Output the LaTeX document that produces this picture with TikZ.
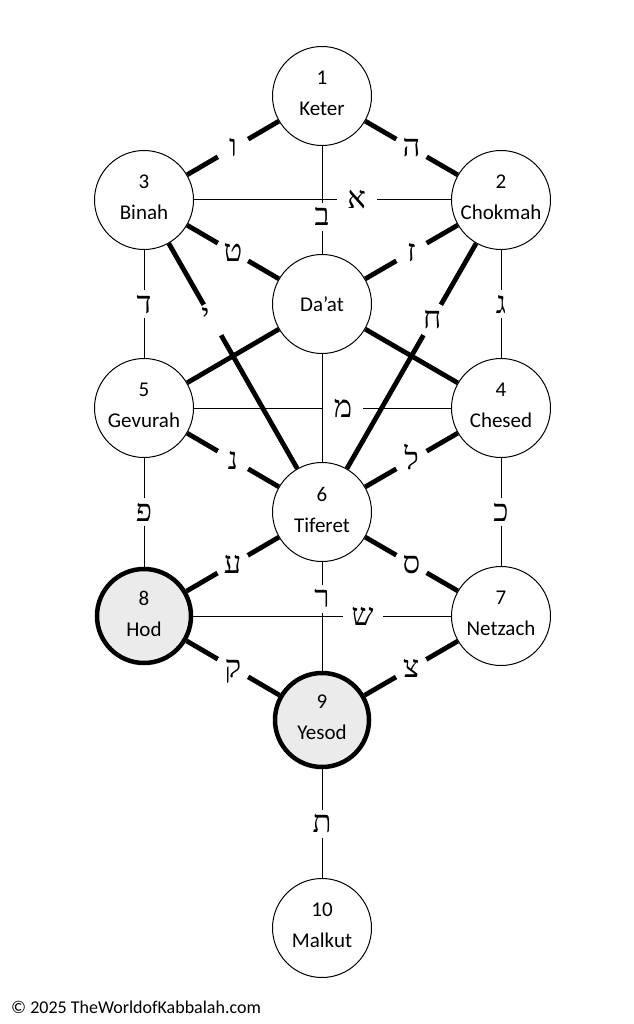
\documentclass[tikz,border=0pt]{standalone}
\usepackage{fontspec}
\setmainfont{Carlito}
\newfontfamily\heb[Script=Hebrew]{Liberation Serif}
\definecolor{lowfill}{RGB}{235,235,235}
\begin{document}
\begin{tikzpicture}[x=1pt,y=-1pt,
  sef/.style={circle,draw=black,line width=1pt,fill=white,minimum size=99pt,inner sep=0pt},
  sefbold/.style={circle,draw=black,line width=4.5pt,fill=lowfill,minimum size=94pt,inner sep=0pt},
  sefname/.style={align=center,inner sep=0pt,font=\fontsize{21}{31}\selectfont,yshift=2.5pt},
  thinpath/.style={line width=1pt},
  thickpath/.style={line width=4.8pt},
  hebfont/.style={font=\heb\fontsize{31}{31}\selectfont,text height=18pt,text depth=0pt},
  lblh/.style={hebfont,rectangle,fill=white,minimum width=40pt,minimum height=28pt,inner sep=0pt},
  lbld/.style={hebfont,circle,fill=white,minimum size=35pt,inner sep=0pt}
]
\useasboundingbox (0,0) rectangle (633,1024);
% sefirot
\node[sef] (keter) at (322,96) {};
\node[sef] (binah) at (144,200) {};
\node[sef] (chokmah) at (501,200) {};
\node[sef] (daat) at (322,304) {};
\node[sef] (gevurah) at (144,408) {};
\node[sef] (chesed) at (501,408) {};
\node[sef] (tiferet) at (322,512) {};
\node[sefbold] (hod) at (144,616) {};
\node[sef] (netzach) at (501,616) {};
\node[sefbold] (yesod) at (322,720) {};
\node[sef] (malkut) at (322,928) {};
% thin paths
\draw[thinpath] (keter) -- coordinate[pos=0.654] (pBet) (daat);
\draw[thinpath] (daat) -- (tiferet);
\draw[thinpath] (tiferet) -- coordinate[pos=0.34] (pResh) (yesod);
\draw[thinpath] (yesod) -- coordinate[pos=0.5] (pTav) (malkut);
\draw[thinpath] (binah) -- coordinate[pos=0.633] (pAlef) (chokmah);
\draw[thinpath] (gevurah) -- coordinate[pos=0.58] (pMem) (chesed);
\draw[thinpath] (hod) -- coordinate[pos=0.657] (pShin) (netzach);
\draw[thinpath] (binah) -- coordinate[pos=0.5] (pDalet) (gevurah);
\draw[thinpath] (chokmah) -- coordinate[pos=0.5] (pGimel) (chesed);
\draw[thinpath] (gevurah) -- coordinate[pos=0.5] (pPe) (hod);
\draw[thinpath] (chesed) -- coordinate[pos=0.5] (pKaf) (netzach);
% thick paths
\draw[thickpath] (keter) -- coordinate[pos=0.5] (pVav) (binah);
\draw[thickpath] (keter) -- coordinate[pos=0.5] (pHe) (chokmah);
\draw[thickpath] (binah) -- coordinate[pos=0.5] (pTet) (daat);
\draw[thickpath] (chokmah) -- coordinate[pos=0.5] (pZayin) (daat);
\draw[thickpath] (binah) -- coordinate[pos=0.34] (pYod) (tiferet);
\draw[thickpath] (chokmah) -- coordinate[pos=0.34] (pHet) (tiferet);
\draw[thickpath] (daat) -- (gevurah);
\draw[thickpath] (daat) -- (chesed);
\draw[thickpath] (gevurah) -- coordinate[pos=0.5] (pNun) (tiferet);
\draw[thickpath] (chesed) -- coordinate[pos=0.5] (pLamed) (tiferet);
\draw[thickpath] (tiferet) -- coordinate[pos=0.5] (pAyin) (hod);
\draw[thickpath] (tiferet) -- coordinate[pos=0.5] (pSamekh) (netzach);
\draw[thickpath] (hod) -- coordinate[pos=0.5] (pQof) (yesod);
\draw[thickpath] (netzach) -- coordinate[pos=0.5] (pTsadi) (yesod);
% sefirot names
\node[sefname] (keterT) at (keter) {1\\Keter};
\node[sefname] (binahT) at (binah) {3\\Binah};
\node[sefname] (chokmahT) at (chokmah) {2\\Chokmah};
\node[sefname,yshift=-2.5pt] (daatT) at (daat) {Da’at};
\node[sefname] (gevurahT) at (gevurah) {5\\Gevurah};
\node[sefname] (chesedT) at (chesed) {4\\Chesed};
\node[sefname] (tiferetT) at (tiferet) {6\\Tiferet};
\node[sefname] (hodT) at (hod) {8\\Hod};
\node[sefname] (netzachT) at (netzach) {7\\Netzach};
\node[sefname] (yesodT) at (yesod) {9\\Yesod};
\node[sefname] (malkutT) at (malkut) {10\\Malkut};
% letters
\node[lblh] (lBet) at (pBet) {ב};
\node[lblh] (lResh) at (pResh) {ר};
\node[lblh] (lTav) at (pTav) {ת};
\node[lblh] (lAlef) at (pAlef) {א};
\node[lblh] (lMem) at (pMem) {מ};
\node[lblh] (lShin) at (pShin) {ש};
\node[lblh] (lDalet) at (pDalet) {ד};
\node[lblh] (lGimel) at (pGimel) {ג};
\node[lblh] (lPe) at (pPe) {פ};
\node[lblh] (lKaf) at (pKaf) {כ};
\node[lbld] (lVav) at (pVav) {ו};
\node[lbld] (lHe) at (pHe) {ה};
\node[lbld] (lTet) at (pTet) {ט};
\node[lbld] (lZayin) at (pZayin) {ז};
\node[lbld] (lYod) at (pYod) {\hspace*{-14pt}\raisebox{3pt}{י}};
\node[lbld] (lHet) at (pHet) {ח};
\node[lbld] (lNun) at (pNun) {נ};
\node[lbld] (lLamed) at (pLamed) {ל};
\node[lbld] (lAyin) at (pAyin) {ע};
\node[lbld] (lSamekh) at (pSamekh) {ס};
\node[lbld] (lQof) at (pQof) {ק};
\node[lbld] (lTsadi) at (pTsadi) {צ};
% footer
\node[anchor=west,inner sep=0pt,font=\fontsize{18}{18}\selectfont] (copyright) at (11,1007) {© 2025 TheWorldofKabbalah.com};
\end{tikzpicture}
\end{document}
